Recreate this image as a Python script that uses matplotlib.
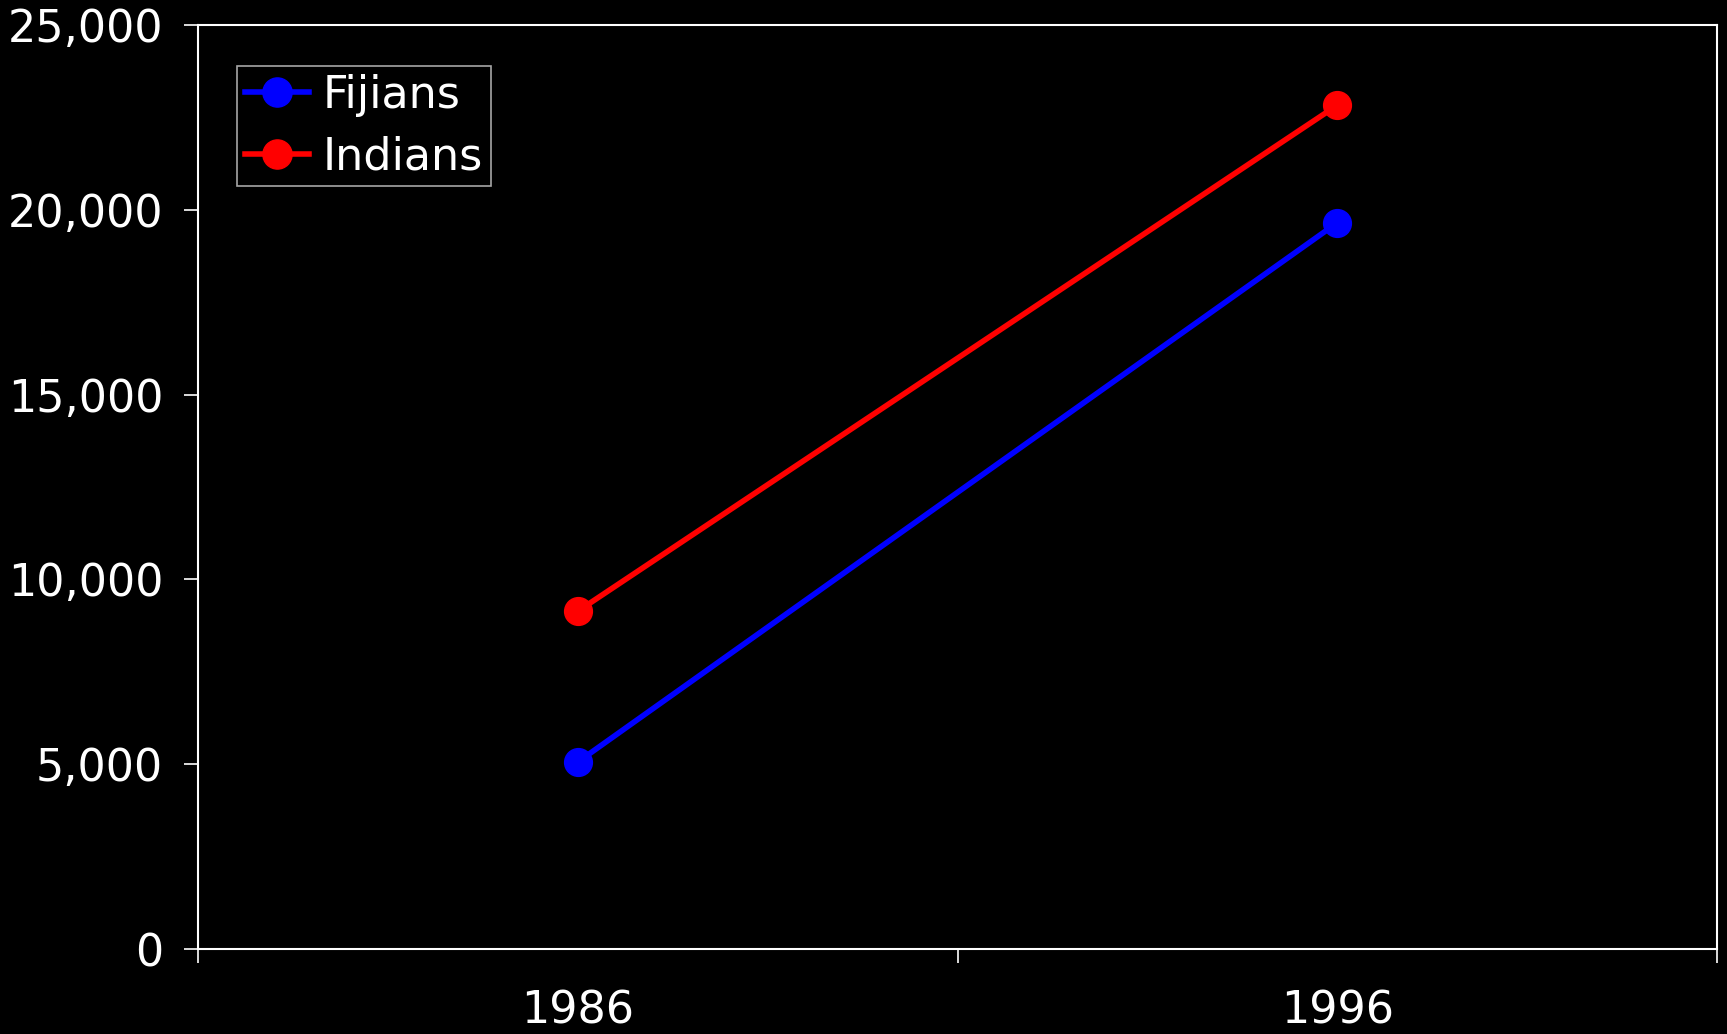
import matplotlib
matplotlib.use('Agg')
import matplotlib.pyplot as plt
from matplotlib.ticker import FuncFormatter

# data
years = ["1986", "1996"]
fijians = [5060, 19650]
indians = [9140, 22830]

plt.rcParams['font.family'] = ['DejaVu Sans']
fs = 32

fig = plt.figure(figsize=(17.27, 10.34), dpi=100, facecolor="black")
ax = fig.add_axes([0.1147, 0.0822, 0.8795, 0.8936], facecolor="black")

xpos = [i + 0.5 for i in range(len(years))]
ax.plot(xpos, fijians, color="#0000ff", lw=4, marker="o", markersize=20, label="Fijians")
ax.plot(xpos, indians, color="#ff0000", lw=4, marker="o", markersize=20, label="Indians")

ax.set_xlim(0, len(years))
ax.set_ylim(0, 25000)
ax.set_yticks(range(0, 25001, 5000))
ax.yaxis.set_major_formatter(FuncFormatter(lambda v, p: f"{int(v):,}"))

# category boundaries get tick marks, labels sit in the middle
ax.set_xticks(range(len(years) + 1))
ax.set_xticklabels([])
ax.set_xticks(xpos, minor=True)
ax.set_xticklabels(years, minor=True)
ax.tick_params(axis="x", which="major", length=10, width=1.2, color="white", direction="out")
ax.tick_params(axis="x", which="minor", length=0, pad=29, labelsize=fs, labelcolor="white")
ax.tick_params(axis="y", length=10, width=1.2, color="white", pad=15, labelsize=fs, labelcolor="white")

for s in ax.spines.values():
    s.set_color("white")
    s.set_linewidth(1.5)

leg = ax.legend(loc="upper left", bbox_to_anchor=(0.0255, 0.956), fontsize=fs,
                frameon=True, fancybox=False, facecolor="black", edgecolor="#d0d0d0",
                handlelength=1.45, handletextpad=0.3, borderpad=0.18, labelspacing=0.42,
                borderaxespad=0, markerscale=1.05)
leg.get_frame().set_linewidth(1.2)
for t in leg.get_texts():
    t.set_color("white")

fig.savefig("out.png", dpi=100, facecolor="black")
